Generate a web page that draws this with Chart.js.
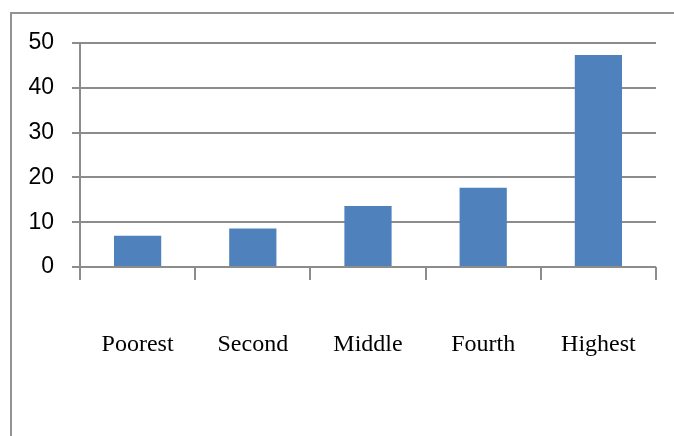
<!DOCTYPE html>
<html>
<head>
<meta charset="utf-8">
<script src="https://cdn.jsdelivr.net/npm/chart.js@4"></script>
<style>
  html, body { margin: 0; padding: 0; background: #fff; overflow: hidden; }
  #wrap { position: relative; width: 674px; height: 436px; }
  #frame { position: absolute; left: 10px; top: 12px; width: 700px; height: 500px;
           border: 2px solid #939393; box-sizing: border-box; }
  #box { position: absolute; left: 0; top: 0; width: 674px; height: 436px; }
</style>
</head>
<body>
<div id="wrap">
  <div id="frame"></div>
  <div id="box"><canvas id="chart"></canvas></div>
</div>
<script>
// quintile categories and values
const categories = ['Poorest', 'Second', 'Middle', 'Fourth', 'Highest'];
const values = [7.0, 8.6, 13.6, 17.7, 47.3];
const yTicks = [0, 10, 20, 30, 40, 50];

const gridGrey = '#8c8c8c';

new Chart(document.getElementById('chart'), {
    type: 'bar',
    data: {
        labels: categories,
        datasets: [{
            data: values,
            backgroundColor: '#4f81bd',
            borderWidth: 0,
            categoryPercentage: 1,
            barPercentage: 0.41
        }]
    },
    options: {
        responsive: true,
        maintainAspectRatio: false,
        animation: false,
        layout: { padding: { left: 0, right: 18, top: 43, bottom: 0 } },
        plugins: {
            legend: { display: false },
            tooltip: { enabled: false }
        },
        scales: {
            x: {
                offset: true,
                grid: {
                    offset: true,
                    drawOnChartArea: false,
                    drawTicks: true,
                    tickLength: 13,
                    color: gridGrey,
                    lineWidth: 2
                },
                border: { display: false },
                ticks: {
                    color: '#000',
                    padding: 50,
                    maxRotation: 0,
                    font: { family: '"Liberation Serif", "Times New Roman", serif', size: 24 }
                },
                afterFit: (scale) => {
                    scale.height = 169;
                    // labels sit inside their categories, no edge overflow
                    scale.paddingLeft = 0;
                    scale.paddingRight = 0;
                }
            },
            y: {
                min: 0,
                max: 50,
                afterBuildTicks: (scale) => { scale.ticks = yTicks.map(v => ({ value: v })); },
                grid: {
                    color: gridGrey,
                    lineWidth: 2,
                    tickLength: 8
                },
                border: { display: true, color: gridGrey, width: 2 },
                ticks: {
                    color: '#000',
                    padding: 18,
                    font: { family: '"Liberation Sans", Arial, sans-serif', size: 23 }
                },
                afterFit: (scale) => { scale.width = 80; }
            }
        }
    }
});
</script>
</body>
</html>
